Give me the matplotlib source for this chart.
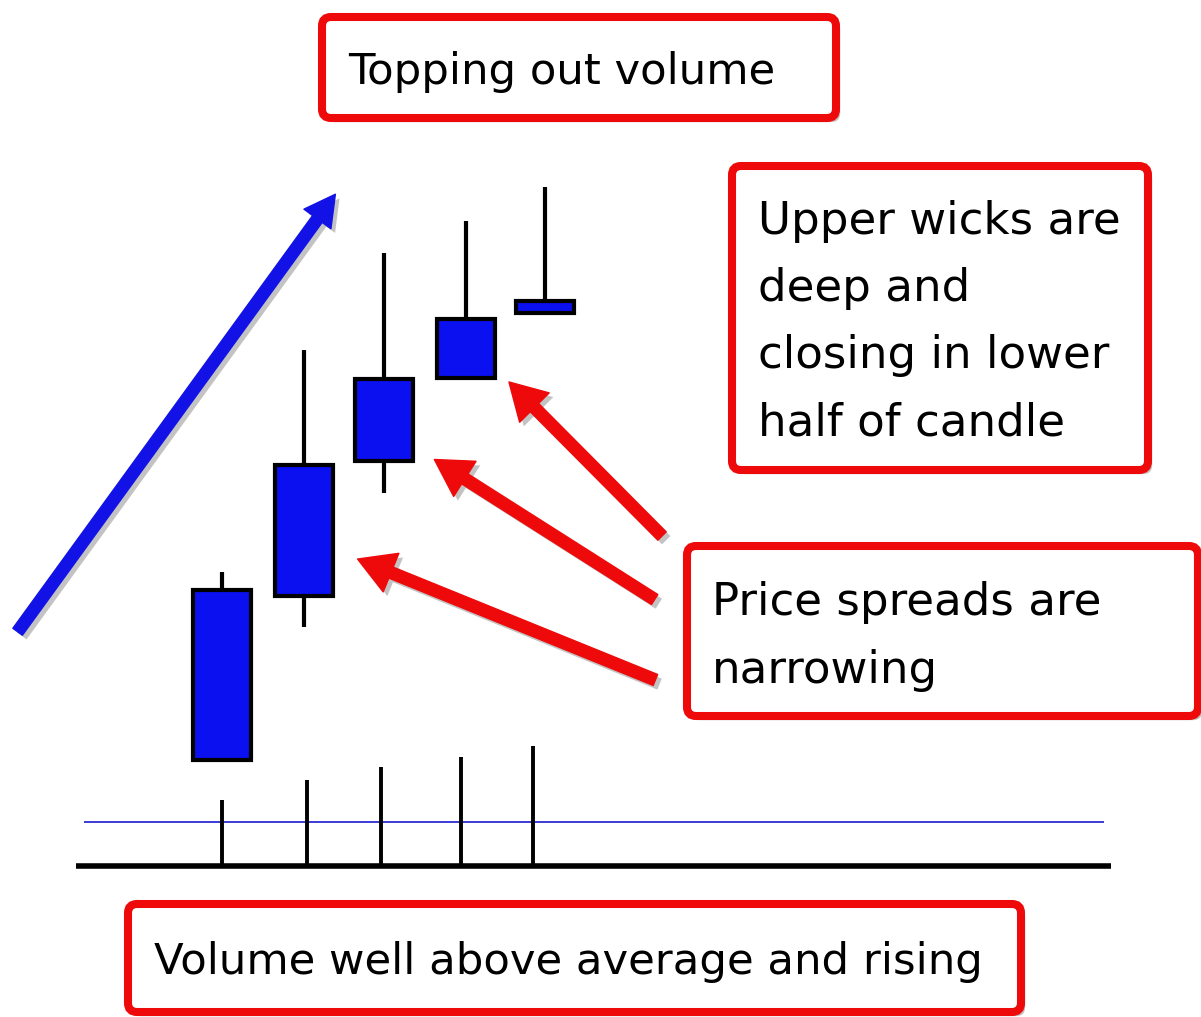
"""Topping-out volume diagram: candles, volume spikes and callout boxes."""

import matplotlib
matplotlib.use("Agg")
import matplotlib.pyplot as plt
import matplotlib.patheffects as pe
from matplotlib.patches import FancyArrowPatch, FancyBboxPatch, Rectangle

# --- data (chart units, y grows downward like the picture) ---
candle_x = [222, 304, 384, 466, 545]
body_top = [590, 465, 379, 319, 301]
body_bottom = [760, 596, 461, 378, 313]
wick_high = [572, 350, 253, 221, 187]
wick_low = [760, 627, 493, 378, 313]

volume_x = [222, 307, 381, 461, 533]
volume_top = [800, 780, 767, 757, 746]
volume_base = 866
volume_avg = 822

# callouts: (left, top, right, bottom), text lines
box_top = (322, 17, 836, 118)
box_wicks = (732, 166, 1148, 470)
box_spread = (687, 546, 1198, 716)
box_volume = (128, 904, 1021, 1012)

text_top = ["Topping out volume"]
text_wicks = ["Upper wicks are", "deep and", "closing in lower", "half of candle"]
text_spread = ["Price spreads are", "narrowing"]
text_volume = ["Volume well above average and rising"]

# red pointer arrows (tail -> head)
spread_arrows = [((664, 538), (507, 380)),
                 ((657, 601), (432, 458)),
                 ((658, 681), (355, 558))]
trend_arrow = ((16, 634), (337, 192))

RED = "#ee0a0a"
BLUE = "#0a10f0"
BODY_W = 58

fig = plt.figure(figsize=(12.01, 10.17), dpi=100)
ax = fig.add_axes([0, 0, 1, 1])
ax.set_xlim(0, 1201)
ax.set_ylim(1017, 0)
ax.axis("off")

shadow = [pe.SimplePatchShadow(offset=(3, -3), shadow_rgbFace="#888888", alpha=0.5),
          pe.Normal()]

# candles
for x, bt, bb, hi, lo in zip(candle_x, body_top, body_bottom, wick_high, wick_low):
    ax.plot([x, x], [hi, bt], color="black", lw=3, solid_capstyle="butt", zorder=2)
    ax.plot([x, x], [bb, lo], color="black", lw=3, solid_capstyle="butt", zorder=2)
    ax.add_patch(Rectangle((x - BODY_W / 2, bt), BODY_W, bb - bt,
                           facecolor=BLUE, edgecolor="black", lw=3, zorder=3))

# volume
ax.vlines(volume_x, volume_top, volume_base, color="black", lw=2.8, zorder=2)
ax.hlines(volume_avg, 84, 1104, color="#1a1ad0", lw=1.2, zorder=1)
ax.hlines(volume_base, 76, 1111, color="black", lw=4, zorder=3)

# arrows
(tx, ty), (hx, hy) = trend_arrow
ax.add_patch(FancyArrowPatch((tx, ty), (hx, hy),
                             arrowstyle="simple,head_length=22,head_width=24,tail_width=8.5",
                             mutation_scale=1, color="#1212e6", lw=1, joinstyle="round",
                             capstyle="round", zorder=4, path_effects=shadow))
for (tx, ty), (hx, hy) in spread_arrows:
    ax.add_patch(FancyArrowPatch((tx, ty), (hx, hy),
                                 arrowstyle="simple,head_length=26,head_width=30,tail_width=8.5",
                                 mutation_scale=1, color=RED, lw=1, joinstyle="round",
                                 zorder=4, path_effects=shadow))


def callout(box, lines, x_text, y_first, pitch, size, ha="left"):
    left, top, right, bottom = box
    ax.add_patch(FancyBboxPatch((left, top), right - left, bottom - top,
                                boxstyle="round,pad=0,rounding_size=9",
                                facecolor="white", edgecolor=RED, lw=5.8,
                                zorder=5, path_effects=shadow))
    for i, line in enumerate(lines):
        ax.text(x_text, y_first + i * pitch, line, ha=ha, va="baseline",
                fontsize=size, color="black", zorder=6)


callout(box_top, text_top, 562, 84, 0, 31.2, ha="center")
callout(box_wicks, text_wicks, 758, 234, 67, 32.5)
callout(box_spread, text_spread, 712, 615, 68, 32.5)
callout(box_volume, text_volume, 568, 974, 0, 31.2, ha="center")

fig.savefig("out.png", dpi=100)
